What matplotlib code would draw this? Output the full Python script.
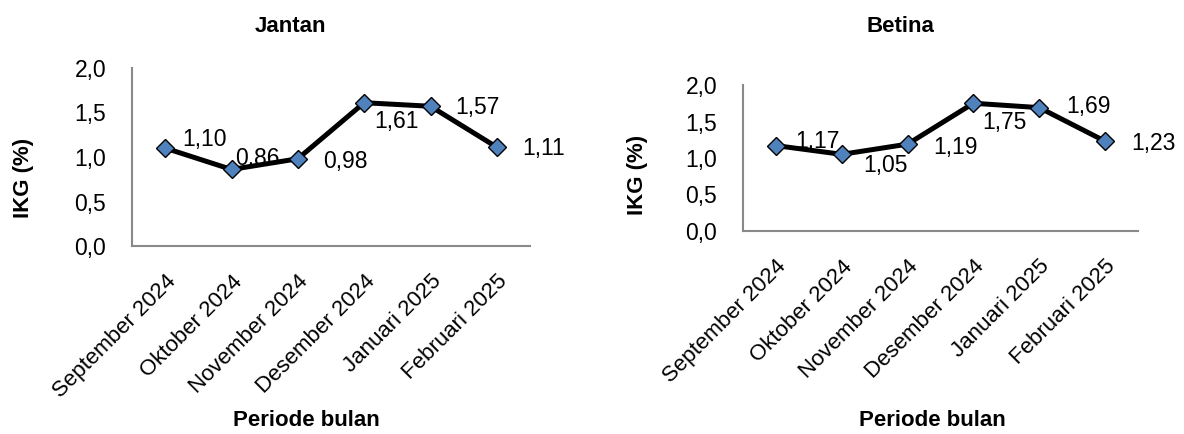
import matplotlib
matplotlib.use("Agg")
import matplotlib.pyplot as plt

plt.rcParams['font.family'] = ['Liberation Sans', 'DejaVu Sans']

bulan = ['September 2024', 'Oktober 2024', 'November 2024',
         'Desember 2024', 'Januari 2025', 'Februari 2025']
jantan = [1.10, 0.86, 0.98, 1.61, 1.57, 1.11]
betina = [1.17, 1.05, 1.19, 1.75, 1.69, 1.23]
yticks = [0.0, 0.5, 1.0, 1.5, 2.0]

# data label offsets in pixels (right, down), as placed in the excel chart
off_jantan = [(39, -9), (26, -11), (48, 3), (32, 19), (47, 1), (47, 1)]
off_betina = [(42, -4), (44, 11), (48, 3), (31, 19), (49, -1), (48, 2)]

W, H = 1184, 434
fig = plt.figure(figsize=(W / 100, H / 100), dpi=100)


def px(x, y):
    return x / W, 1 - y / H


def panel(box, vals, offs, title, title_xy, xlab_xy, ylab_xy):
    x0, x1, ytop, ybot = box
    ax = fig.add_axes([x0 / W, 1 - ybot / H, (x1 - x0) / W, (ybot - ytop) / H])
    x = range(len(vals))
    ax.plot(x, vals, color='black', lw=3.6, marker='D', ms=9.5,
            mfc='#4F81BD', mec='black', mew=1.0, zorder=3, clip_on=False)
    for i, v in enumerate(vals):
        ax.annotate(f'{v:.2f}'.replace('.', ','), (i, v),
                    xytext=(offs[i][0] * 0.72, -offs[i][1] * 0.72),
                    textcoords='offset points', ha='center', va='center',
                    fontsize=16.5, zorder=4)
    ax.set_xlim(-0.5, len(vals) - 0.5)
    ax.set_ylim(0, 2.0)
    ax.set_yticks(yticks)
    ax.set_yticklabels([f'{t:.1f}'.replace('.', ',') for t in yticks], fontsize=16.5)
    ax.set_xticks(list(x))
    ax.set_xticklabels(bulan, rotation=45, ha='right', va='top',
                       rotation_mode='anchor', fontsize=16)
    ax.tick_params(axis='both', length=0)
    ax.tick_params(axis='y', pad=18.5)
    ax.tick_params(axis='x', pad=18)
    for s in ['top', 'right']:
        ax.spines[s].set_visible(False)
    for s in ['left', 'bottom']:
        ax.spines[s].set_color('#898989')
        ax.spines[s].set_linewidth(1.5)
    ax.set_facecolor('none')
    fig.text(*px(*title_xy), title, ha='center', va='center',
             fontsize=16, fontweight='bold')
    fig.text(*px(*xlab_xy), 'Periode bulan', ha='center',
             va='center', fontsize=16, fontweight='bold')
    fig.text(*px(*ylab_xy), 'IKG (%)', ha='center', va='center', rotation=90,
             fontsize=16, fontweight='bold')
    return ax


panel((132, 530, 68, 246), jantan, off_jantan, 'Jantan',
      (290, 26), (306, 421), (23, 178))
panel((743, 1138, 85, 231), betina, off_betina, 'Betina',
      (900, 26), (932, 421), (637, 175))

fig.savefig('out.png', dpi=100)
